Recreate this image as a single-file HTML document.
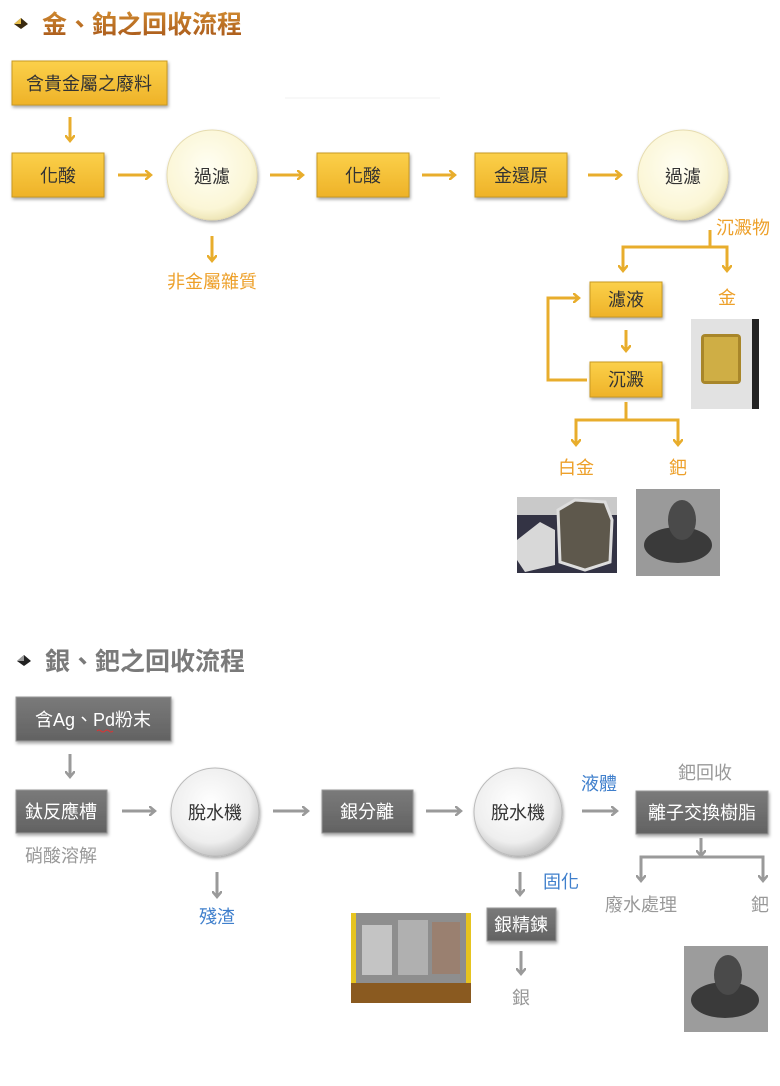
<!DOCTYPE html>
<html><head><meta charset="utf-8"><style>
html,body{margin:0;padding:0;background:#fff;width:780px;height:1086px;overflow:hidden}
svg text{font-family:"Liberation Sans","Noto Sans CJK TC",sans-serif}
</style></head><body>
<svg width="780" height="1086" viewBox="0 0 780 1086" xmlns="http://www.w3.org/2000/svg">
<defs>
<linearGradient id="gb" x1="0" y1="0" x2="0" y2="1"><stop offset="0" stop-color="#fbd04a"/><stop offset="1" stop-color="#eeb228"/></linearGradient>
<linearGradient id="gy" x1="0" y1="0" x2="0" y2="1"><stop offset="0" stop-color="#7a7a7a"/><stop offset="1" stop-color="#626262"/></linearGradient>
<radialGradient id="cy" cx="0.45" cy="0.4" r="0.6"><stop offset="0" stop-color="#fffef2"/><stop offset="0.8" stop-color="#fbf6d6"/><stop offset="1" stop-color="#eee6b8"/></radialGradient>
<radialGradient id="cg" cx="0.45" cy="0.4" r="0.6"><stop offset="0" stop-color="#ffffff"/><stop offset="0.75" stop-color="#eeeeee"/><stop offset="1" stop-color="#c8c8c8"/></radialGradient>
<linearGradient id="tg" x1="0" y1="0" x2="0" y2="1"><stop offset="0" stop-color="#d08a30"/><stop offset="1" stop-color="#a8581a"/></linearGradient>
<marker id="ao" markerWidth="10" markerHeight="10" refX="5" refY="5" orient="auto" markerUnits="userSpaceOnUse"><path d="M0,0 L6,5 L0,10" fill="none" stroke="#e8ad2c" stroke-width="2.5"/></marker>
<marker id="ag" markerWidth="10" markerHeight="10" refX="5" refY="5" orient="auto" markerUnits="userSpaceOnUse"><path d="M0,0 L6,5 L0,10" fill="none" stroke="#9a9a9a" stroke-width="2.5"/></marker>
<filter id="sh" x="-10%" y="-10%" width="130%" height="140%"><feDropShadow dx="1" dy="2" stdDeviation="1.5" flood-color="#000" flood-opacity="0.35"/></filter>
</defs>

<path d="M14,24 L21,18 L28,24 L21,29 Z" fill="#3a2a10"/>
<path d="M14,24 L21,18 L21,24 Z" fill="#e8c050"/>
<text x="42" y="33" font-size="25" font-weight="bold" fill="url(#tg)">金、鉑之回收流程</text>

<g font-size="18" fill="#333" text-anchor="middle">
<rect x="12" y="61" width="155" height="44" fill="url(#gb)" stroke="#c99a22" filter="url(#sh)"/>
<text x="89" y="90">含貴金屬之廢料</text>
<rect x="12" y="153" width="92" height="44" fill="url(#gb)" stroke="#c99a22" filter="url(#sh)"/>
<text x="58" y="182">化酸</text>
<circle cx="212" cy="175" r="45" fill="url(#cy)" stroke="#e6dcb0" filter="url(#sh)"/>
<text x="212" y="183">過濾</text>
<rect x="317" y="153" width="92" height="44" fill="url(#gb)" stroke="#c99a22" filter="url(#sh)"/>
<text x="363" y="182">化酸</text>
<rect x="475" y="153" width="92" height="44" fill="url(#gb)" stroke="#c99a22" filter="url(#sh)"/>
<text x="521" y="182">金還原</text>
<circle cx="683" cy="175" r="45" fill="url(#cy)" stroke="#e6dcb0" filter="url(#sh)"/>
<text x="683" y="183">過濾</text>
<rect x="590" y="282" width="72" height="35" fill="url(#gb)" stroke="#c99a22" filter="url(#sh)"/>
<text x="626" y="306">濾液</text>
<rect x="590" y="362" width="72" height="35" fill="url(#gb)" stroke="#c99a22" filter="url(#sh)"/>
<text x="626" y="386">沉澱</text>
</g>

<g stroke="#e8ad2c" stroke-width="3" fill="none">
<line x1="70" y1="117" x2="70" y2="140" marker-end="url(#ao)"/>
<line x1="118" y1="175" x2="150" y2="175" marker-end="url(#ao)"/>
<line x1="270" y1="175" x2="302" y2="175" marker-end="url(#ao)"/>
<line x1="422" y1="175" x2="454" y2="175" marker-end="url(#ao)"/>
<line x1="588" y1="175" x2="620" y2="175" marker-end="url(#ao)"/>
<line x1="212" y1="236" x2="212" y2="260" marker-end="url(#ao)"/>
<polyline points="710,230 710,247"/>
<polyline points="623,270 623,247 727,247 727,270" />
<line x1="623" y1="255" x2="623" y2="270" marker-end="url(#ao)"/>
<line x1="727" y1="255" x2="727" y2="270" marker-end="url(#ao)"/>
<line x1="626" y1="330" x2="626" y2="350" marker-end="url(#ao)"/>
<polyline points="587,380 548,380 548,298 578,298" marker-end="url(#ao)"/>
<polyline points="626,402 626,420"/>
<polyline points="576,444 576,420 678,420 678,444"/>
<line x1="576" y1="430" x2="576" y2="444" marker-end="url(#ao)"/>
<line x1="678" y1="430" x2="678" y2="444" marker-end="url(#ao)"/>
</g>
<g font-size="18" fill="#eda02a" text-anchor="middle">
<text x="212" y="288">非金屬雜質</text>
<text x="743" y="234">沉澱物</text>
<text x="727" y="304">金</text>
<text x="576" y="474">白金</text>
<text x="678" y="474">鈀</text>
</g>
<line x1="285" y1="98" x2="440" y2="98" stroke="#f0f0f0" stroke-width="1"/>

<rect x="691" y="319" width="68" height="90" fill="#e2e2e2"/>
<rect x="752" y="319" width="7" height="90" fill="#222"/>
<rect x="701" y="334" width="40" height="50" rx="4" fill="#a8862a"/>
<rect x="704" y="337" width="34" height="44" fill="#cfae45"/>
<rect x="517" y="497" width="100" height="76" fill="#334"/>
<rect x="517" y="497" width="100" height="18" fill="#c9c9c9"/>
<path d="M517,540 L540,522 L555,530 L555,565 L525,572 L517,560Z" fill="#d8d8d8"/>
<path d="M558,510 L575,500 L605,502 L612,520 L610,562 L585,570 L560,562Z" fill="#5e584c" stroke="#ddd" stroke-width="3"/>
<rect x="636" y="489" width="84" height="87" fill="#9a9a9a"/>
<ellipse cx="678" cy="545" rx="34" ry="18" fill="#3a3a3a"/>
<ellipse cx="682" cy="520" rx="14" ry="20" fill="#4a4a4a"/>

<path d="M17,661 L24,655 L31,661 L24,666 Z" fill="#222"/>
<path d="M17,661 L24,655 L24,661 Z" fill="#999"/>
<text x="45" y="670" font-size="25" font-weight="bold" fill="#7a7a7a">銀、鈀之回收流程</text>

<g font-size="18" fill="#fff" text-anchor="middle">
<rect x="16" y="697" width="155" height="44" fill="url(#gy)" stroke="#999" filter="url(#sh)"/>
<text x="93" y="726">含Ag、Pd粉末</text>
<path d="M97,731 q2,-2 4,0 t4,0 t4,0 t4,0" stroke="#d33" fill="none" stroke-width="1"/>
<rect x="16" y="790" width="91" height="43" fill="url(#gy)" stroke="#999" filter="url(#sh)"/>
<text x="61" y="818">鈦反應槽</text>
<rect x="322" y="790" width="91" height="43" fill="url(#gy)" stroke="#999" filter="url(#sh)"/>
<text x="367" y="818">銀分離</text>
<rect x="636" y="791" width="132" height="43" fill="url(#gy)" stroke="#999" filter="url(#sh)"/>
<text x="702" y="819">離子交換樹脂</text>
<rect x="487" y="908" width="69" height="33" fill="url(#gy)" stroke="#999" filter="url(#sh)"/>
<text x="521" y="931">銀精鍊</text>
</g>
<g font-size="18" fill="#333" text-anchor="middle">
<circle cx="215" cy="812" r="44" fill="url(#cg)" stroke="#bbb" filter="url(#sh)"/>
<text x="215" y="819">脫水機</text>
<circle cx="518" cy="812" r="44" fill="url(#cg)" stroke="#bbb" filter="url(#sh)"/>
<text x="518" y="819">脫水機</text>
</g>
<g stroke="#9a9a9a" stroke-width="3" fill="none">
<line x1="70" y1="754" x2="70" y2="776" marker-end="url(#ag)"/>
<line x1="122" y1="811" x2="154" y2="811" marker-end="url(#ag)"/>
<line x1="273" y1="811" x2="307" y2="811" marker-end="url(#ag)"/>
<line x1="426" y1="811" x2="460" y2="811" marker-end="url(#ag)"/>
<line x1="582" y1="811" x2="616" y2="811" marker-end="url(#ag)"/>
<line x1="217" y1="872" x2="217" y2="896" marker-end="url(#ag)"/>
<line x1="520" y1="872" x2="520" y2="894" marker-end="url(#ag)"/>
<line x1="521" y1="951" x2="521" y2="973" marker-end="url(#ag)"/>
<line x1="701" y1="838" x2="701" y2="855" marker-end="url(#ag)"/>
<polyline points="641,880 641,857 763,857 763,880"/>
<line x1="641" y1="868" x2="641" y2="880" marker-end="url(#ag)"/>
<line x1="763" y1="868" x2="763" y2="880" marker-end="url(#ag)"/>
</g>
<g font-size="18" text-anchor="middle">
<text x="61" y="862" fill="#999">硝酸溶解</text>
<text x="217" y="923" fill="#3f7fcc">殘渣</text>
<text x="599" y="790" fill="#3f7fcc">液體</text>
<text x="561" y="888" fill="#3f7fcc">固化</text>
<text x="705" y="779" fill="#999">鈀回收</text>
<text x="641" y="911" fill="#999">廢水處理</text>
<text x="760" y="911" fill="#999">鈀</text>
<text x="521" y="1004" fill="#999">銀</text>
</g>
<rect x="351" y="913" width="120" height="90" fill="#e6c420"/>
<rect x="356" y="913" width="110" height="70" fill="#8e8e8e"/>
<rect x="362" y="925" width="30" height="50" fill="#c4c4c4"/>
<rect x="398" y="920" width="30" height="55" fill="#b0b0b0"/>
<rect x="432" y="922" width="28" height="52" fill="#9a8070"/>
<rect x="351" y="983" width="120" height="20" fill="#8a5a20"/>
<rect x="684" y="946" width="84" height="86" fill="#9c9c9c"/>
<ellipse cx="725" cy="1000" rx="34" ry="18" fill="#3a3a3a"/>
<ellipse cx="728" cy="975" rx="14" ry="20" fill="#4a4a4a"/>
</svg>
</body></html>
